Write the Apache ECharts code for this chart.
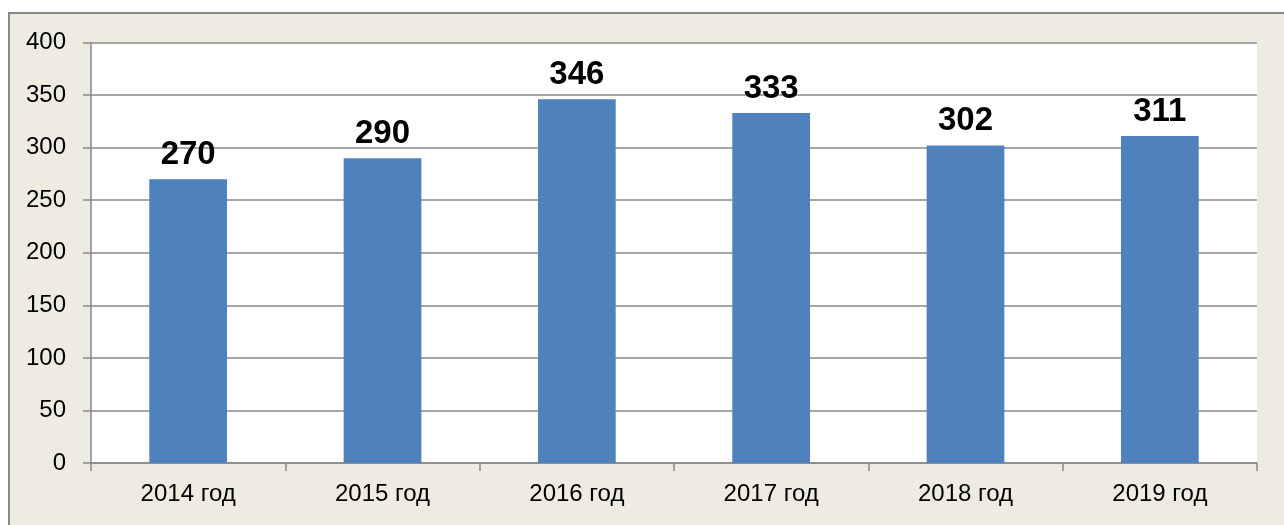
<!DOCTYPE html>
<html>
<head>
<meta charset="utf-8">
<script src="https://cdn.jsdelivr.net/npm/echarts@6/dist/echarts.min.js"></script>
<style>
  html, body { margin: 0; padding: 0; background: #fff; overflow: hidden; }
  .frame {
    position: absolute; left: 8px; top: 12px; width: 1300px; height: 540px;
    background: #eeece1; border: 2px solid #8a8a8a;
  }
  #chart { position: absolute; left: 0; top: 0; width: 1284px; height: 525px; }
</style>
</head>
<body>
<div class="frame"></div>
<div id="chart"></div>
<script>
// data
const years  = ['2014 год', '2015 год', '2016 год', '2017 год', '2018 год', '2019 год']
const values = [270, 290, 346, 333, 302, 311]

const GRID = '#898989'
const FONT = 'Liberation Sans'

const chart = echarts.init(document.getElementById('chart'), null, { renderer: 'canvas' })
chart.setOption({
  animation: false,
  backgroundColor: 'transparent',
  grid: {
    left: 91, right: 27, top: 42.5, bottom: 62,
    show: true, backgroundColor: '#fff', borderWidth: 0,
  },
  xAxis: {
    type: 'category',
    data: years,
    axisLine: { lineStyle: { color: GRID, width: 1.5 } },
    axisTick: { show: true, length: 8, lineStyle: { color: GRID, width: 1.5 } },
    axisLabel: { color: '#000', fontFamily: FONT, fontSize: 24, margin: 19 },
  },
  yAxis: {
    type: 'value',
    min: 0, max: 400, interval: 50,
    axisLine: { show: true, lineStyle: { color: GRID, width: 1.5 } },
    axisTick: { show: true, length: 8, lineStyle: { color: GRID, width: 1.5 } },
    axisLabel: { color: '#000', fontFamily: FONT, fontSize: 24, margin: 25 },
    splitLine: { lineStyle: { color: GRID, width: 1.5 } },
  },
  series: [{
    type: 'bar',
    data: values,
    barWidth: '40%',
    itemStyle: { color: '#4f81bd' },
    label: {
      show: true, position: 'top', distance: 8,
      color: '#000', fontFamily: FONT, fontWeight: 'bold', fontSize: 33,
    },
  }],
})
</script>
</body>
</html>
